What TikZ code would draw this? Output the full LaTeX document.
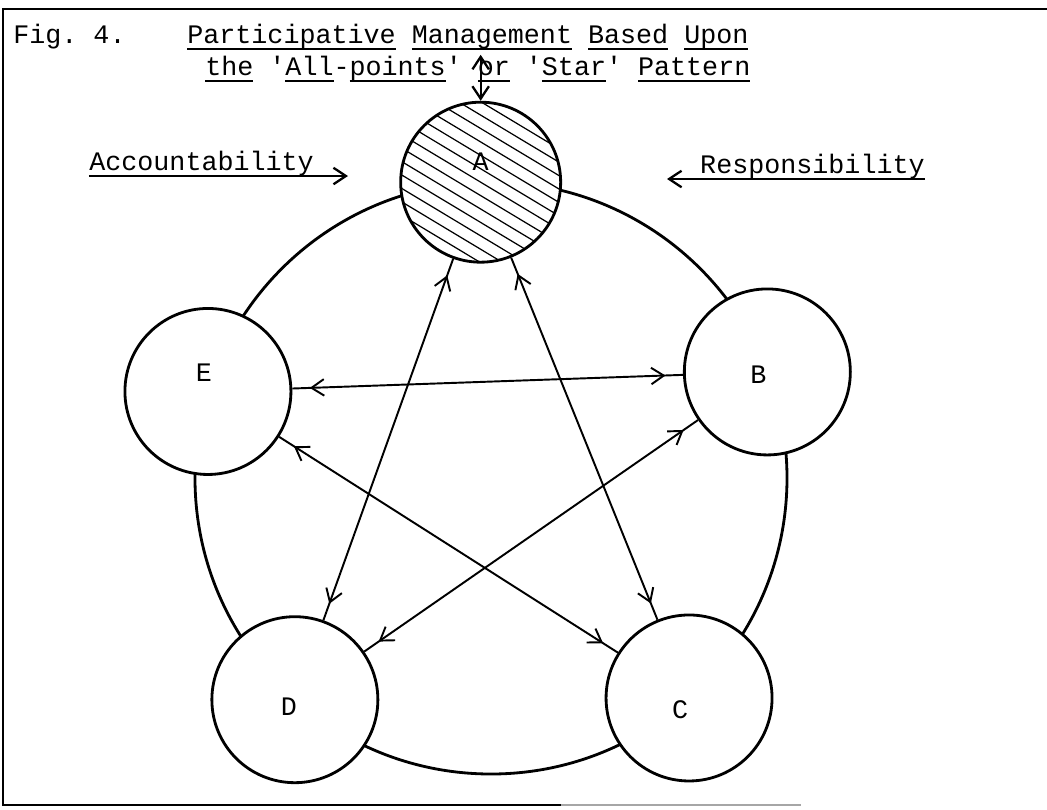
\documentclass[tikz,border=0pt]{standalone}
\usepackage{fontspec}
\setmainfont{Liberation Mono}
\usetikzlibrary{arrows.meta, positioning, calc, decorations.markings}
\newcommand{\uword}[1]{\setbox0=\hbox{#1}\rlap{\rule[-0.14cm]{\wd0}{0.035cm}}\box0\relax}

\begin{document}
\frenchspacing
\begin{tikzpicture}[
    typed/.style={font=\fontsize{15.2}{18}\selectfont, inner sep=0pt},
    unit/.style={circle, draw, line width=1.6pt, fill=white, minimum size=3.32cm, inner sep=0pt},
    every label/.style={font=\fontsize{15.2}{18}\selectfont, inner sep=0pt},
    hatched/.style={minimum size=3.2cm, path picture={
        \foreach \k in {-7,...,7}
            \draw[line width=0.7pt]
                ($(path picture bounding box.center)+(59:\k*0.23)+(149:2)$) --
                ($(path picture bounding box.center)+(59:\k*0.23)+(-31:2)$);}},
    barb/.tip={Straight Barb[length=2.5mm, width=3.3mm]},
    dblarr/.style={line width=1.1pt, postaction={decorate}, decoration={markings,
        mark=at position 0.35cm with {\arrowreversed{barb}},
        mark=at position -0.35cm with {\arrow{barb}}}},
    bigarr/.style={line width=1.3pt},
]
\useasboundingbox (-9.82,-6.62) rectangle (11.12,9.56);
\draw[line width=1pt] (11.12,9.38) -- (-9.76,9.38) -- (-9.76,-6.54) -- (1.4,-6.54);
\draw[line width=1pt, black!35] (1.4,-6.54) -- (6.2,-6.54);

\node[typed, anchor=base west] (fig) at (-9.56,8.70) {Fig. 4.};
\node[typed, anchor=base west] (title) at (-6.08,8.70)
    {\uword{Participative} \uword{Management} \uword{Based} \uword{Upon}};
\node[typed, anchor=base west] (subtitle) at (-5.72,8.06)
    {\uword{the} \textquotesingle\uword{All}-\uword{points}\textquotesingle{} \uword{or} \textquotesingle\uword{Star}\textquotesingle{} \uword{Pattern}};

\draw[line width=1.6pt] (0,0) circle (5.92);

\node[unit, hatched, label={[shift={(0,0.4)}]center:A}] (A) at (92:5.92) {};
\node[unit, label={[shift={(-0.18,-0.06)}]center:B}] (B) at (21:5.92) {};
\node[unit, label={[shift={(-0.18,-0.24)}]center:C}] (C) at (312:5.92) {};
\node[unit, label={[shift={(-0.12,-0.14)}]center:D}] (D) at (228.5:5.92) {};
\node[unit, label={[shift={(-0.08,0.38)}]center:E}] (E) at (163:5.92) {};

\draw[dblarr] (E) -- (B);
\draw[dblarr] (A) -- (D);
\draw[dblarr] (A) -- (C);
\draw[dblarr] (E) -- (C);
\draw[dblarr] (B) -- (D);

\coordinate[above=0.92cm of A.north] (link);
\draw[bigarr, barb-barb] (A.north) -- (link);

\node[typed, anchor=base west] (acc) at (-8.04,6.16) {Accountability};
\coordinate (acctip) at (-2.86,6.04);
\draw[bigarr, -barb] (acc.base west |- acctip) -- (acctip);

\node[typed, anchor=base east] (resp) at (8.68,6.10) {Responsibility};
\coordinate (resptip) at (3.52,5.98);
\draw[bigarr, -barb] (resp.base east |- resptip) -- (resptip);
\end{tikzpicture}
\end{document}
